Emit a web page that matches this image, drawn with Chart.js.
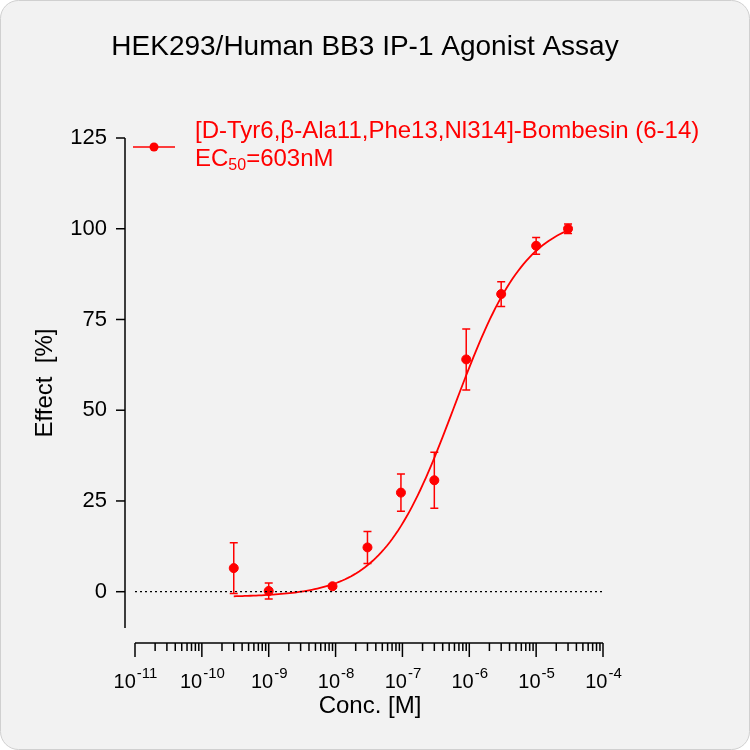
<!DOCTYPE html>
<html><head><meta charset="utf-8">
<script src="https://cdn.jsdelivr.net/npm/chart.js@4/dist/chart.umd.min.js"></script>
<style>html,body{margin:0;padding:0;background:#fff}#wrap{width:750px;height:750px;position:relative}</style>
</head><body><div id="wrap"><canvas id="c" width="750" height="750"></canvas></div>
<script>
const concs = [3e-10, 1e-9, 9e-9, 3e-8, 9.5e-8, 3e-7, 9e-7, 3e-6, 1e-5, 3e-5];
const effects = [6.5, 0.2, 1.5, 12.2, 27.3, 30.7, 64.0, 82.0, 95.3, 100.0];
const errors = [7.0, 2.2, 0.5, 4.4, 5.1, 7.7, 8.4, 3.4, 2.3, 1.3];
const fitBottom = -1.5, fitTop = 104, fitEC50 = 6.03e-7, fitHill = 0.8;
const yTicks = [0, 25, 50, 75, 100, 125];
const xDecades = [-11, -10, -9, -8, -7, -6, -5, -4];
const seriesLabel = "[D-Tyr6,β-Ala11,Phe13,Nl314]-Bombesin (6-14)";
const RED = '#ff0000';
const F = '"Liberation Sans", Arial, sans-serif';

const curve = [];
for (let i = 0; i <= 120; i++) {
  const lx = Math.log10(3e-10) + i * (Math.log10(3e-5) - Math.log10(3e-10)) / 120;
  const x = Math.pow(10, lx);
  curve.push({x, y: fitBottom + (fitTop - fitBottom) / (1 + Math.pow(fitEC50 / x, fitHill))});
}
const pts = concs.map((c, i) => ({x: c, y: effects[i]}));

const deco = {
  id: 'deco',
  beforeDraw(ch) {
    const g = ch.ctx;
    g.save();
    g.fillStyle = '#ffffff'; g.fillRect(0, 0, 750, 750);
    g.fillStyle = '#f2f2f2'; g.strokeStyle = '#d0d0d0'; g.lineWidth = 1;
    g.beginPath(); g.roundRect(0.5, 0.5, 749, 749, 18); g.fill(); g.stroke();
    g.fillStyle = '#000'; g.font = '28px ' + F; g.textAlign = 'center'; g.textBaseline = 'middle';
    g.fillText('HEK293/Human BB3 IP-1 Agonist Assay', 365, 47);
    g.restore();
  },
  afterDatasetsDraw(ch) {
    const g = ch.ctx, xs = ch.scales.x, ys = ch.scales.y, a = ch.chartArea;
    g.save();
    g.strokeStyle = '#000'; g.lineWidth = 1.2; g.setLineDash([2, 3]);
    g.beginPath(); g.moveTo(a.left, ys.getPixelForValue(0)); g.lineTo(a.right, ys.getPixelForValue(0)); g.stroke();
    g.setLineDash([]);
    g.lineWidth = 1.5; g.fillStyle = '#000';
    const yx = a.left - 10;
    g.beginPath(); g.moveTo(yx, a.top); g.lineTo(yx, a.bottom); g.stroke();
    g.font = '22px ' + F; g.textAlign = 'right'; g.textBaseline = 'middle';
    yTicks.forEach(v => { const p = ys.getPixelForValue(v); g.beginPath(); g.moveTo(yx, p); g.lineTo(yx - 9, p); g.stroke(); g.fillText(String(v), 107, p); });
    const xy = a.bottom + 15;
    g.beginPath(); g.moveTo(a.left, xy); g.lineTo(a.right, xy); g.stroke();
    xDecades.forEach(e => {
      for (let m = 1; m <= 9; m++) {
        if (e === -4 && m > 1) break;
        const p = xs.getPixelForValue(m * Math.pow(10, e));
        g.beginPath(); g.moveTo(p, xy); g.lineTo(p, xy + (m === 1 ? 14 : 8)); g.stroke();
      }
      const p = xs.getPixelForValue(Math.pow(10, e));
      g.font = '20px ' + F; const w1 = g.measureText('10').width;
      g.font = '15px ' + F; const ex = '-' + Math.abs(e); const w2 = g.measureText(ex).width;
      const x0 = p - (w1 + w2) / 2;
      g.textAlign = 'left'; g.textBaseline = 'alphabetic';
      g.font = '20px ' + F; g.fillText('10', x0, 688);
      g.font = '15px ' + F; g.fillText(ex, x0 + w1 + 1, 678);
    });
    g.font = '24px ' + F; g.textAlign = 'center'; g.textBaseline = 'middle';
    g.fillText('Conc. [M]', 370, 706);
    g.save(); g.translate(45, 383); g.rotate(-Math.PI / 2); g.fillText('Effect  [%]', 0, 0); g.restore();
    g.strokeStyle = RED; g.lineWidth = 1.5;
    concs.forEach((c, i) => {
      const px = xs.getPixelForValue(c), t = ys.getPixelForValue(effects[i] + errors[i]), b = ys.getPixelForValue(effects[i] - errors[i]);
      g.beginPath(); g.moveTo(px, t); g.lineTo(px, b);
      g.moveTo(px - 4, t); g.lineTo(px + 4, t); g.moveTo(px - 4, b); g.lineTo(px + 4, b); g.stroke();
    });
    g.beginPath(); g.moveTo(133, 147); g.lineTo(175, 147); g.stroke();
    g.fillStyle = RED; g.beginPath(); g.arc(154, 147, 4.5, 0, Math.PI * 2); g.fill();
    g.font = '24px ' + F; g.textAlign = 'left'; g.textBaseline = 'middle';
    g.fillText(seriesLabel, 195, 131);
    g.fillText('EC', 195, 159);
    let w = g.measureText('EC').width;
    g.font = '16px ' + F; g.fillText('50', 195 + w, 166);
    let w2 = g.measureText('50').width;
    g.font = '24px ' + F; g.fillText('=603nM', 195 + w + w2, 159);
    g.restore();
  }
};

new Chart(document.getElementById('c'), {
  type: 'scatter',
  data: { datasets: [
    { data: pts, backgroundColor: RED, borderColor: RED, pointRadius: 4.5, showLine: false, order: 0 },
    { data: curve, borderColor: RED, borderWidth: 1.8, pointRadius: 0, showLine: true, fill: false, order: 1 }
  ]},
  options: {
    responsive: false, animation: false, devicePixelRatio: 1,
    layout: { padding: { left: 0, right: 147, top: 138, bottom: 20 } },
    plugins: { legend: { display: false }, tooltip: { enabled: false } },
    scales: {
      x: {
        type: 'logarithmic', min: 1e-11, max: 1e-4,
        grid: { display: false, drawTicks: false }, border: { display: false },
        ticks: { display: false },
        afterFit: s => { s.height = 102; }
      },
      y: {
        min: -10, max: 125,
        grid: { display: false, drawTicks: false }, border: { display: false },
        ticks: { display: false },
        afterFit: s => { s.width = 135; }
      }
    }
  },
  plugins: [deco]
});
</script></body></html>
